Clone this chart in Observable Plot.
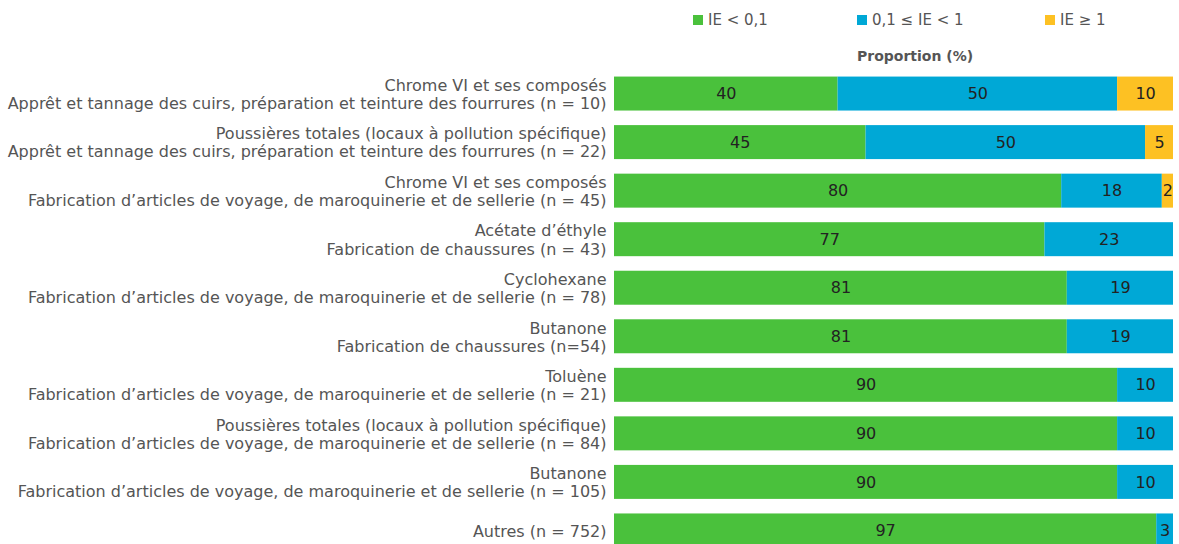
<!DOCTYPE html>
<html>
<head>
<meta charset="utf-8">
<script src="https://cdn.jsdelivr.net/npm/d3@7"></script>
<script src="https://cdn.jsdelivr.net/npm/@observablehq/plot@0.6"></script>
<style>
  html, body { margin: 0; padding: 0; background: #fff; overflow: hidden; width: 1179px; height: 544px; }
  body { font-family: "DejaVu Sans", sans-serif; color: #555; }
  #legend { position: relative; height: 62px; width: 1179px; }
  .item { position: absolute; top: 11px; font-size: 15px; line-height: 18px; white-space: nowrap; color: #555; }
  .sw { display: inline-block; width: 10px; height: 10px; margin-right: 5px; vertical-align: 0px; }
  #ptitle { position: absolute; left: 857px; top: 47px; font-size: 14px; font-weight: bold; line-height: 18px; color: #555; white-space: nowrap; }
</style>
</head>
<body>
<div id="legend"></div>
<div id="chart"></div>
<script>
const categories = [
  "Chrome VI et ses composés\nApprêt et tannage des cuirs, préparation et teinture des fourrures (n = 10)",
  "Poussières totales (locaux à pollution spécifique)\nApprêt et tannage des cuirs, préparation et teinture des fourrures (n = 22)",
  "Chrome VI et ses composés\nFabrication d’articles de voyage, de maroquinerie et de sellerie (n = 45)",
  "Acétate d’éthyle\nFabrication de chaussures (n = 43)",
  "Cyclohexane\nFabrication d’articles de voyage, de maroquinerie et de sellerie (n = 78)",
  "Butanone\nFabrication de chaussures (n=54)",
  "Toluène\nFabrication d’articles de voyage, de maroquinerie et de sellerie (n = 21)",
  "Poussières totales (locaux à pollution spécifique)\nFabrication d’articles de voyage, de maroquinerie et de sellerie (n = 84)",
  "Butanone\nFabrication d’articles de voyage, de maroquinerie et de sellerie (n = 105)",
  "Autres (n = 752)"
];
const seriesNames = ["IE < 0,1", "0,1 ≤ IE < 1", "IE ≥ 1"];
const seriesColors = ["#4ac13c", "#00a8d6", "#fdc123"];
const low = [40, 45, 80, 77, 81, 81, 90, 90, 90, 97];
const mid = [50, 50, 18, 23, 19, 19, 10, 10, 10, 3];
const high = [10, 5, 2, 0, 0, 0, 0, 0, 0, 0];
const axisTitle = "Proportion (%)";

const seriesValues = [low, mid, high];
const data = [];
categories.forEach((c, i) => {
  seriesValues.forEach((vals, s) => {
    if (vals[i] > 0) data.push({cat: c, series: seriesNames[s], value: vals[i]});
  });
});

// Legend
const legend = document.getElementById("legend");
const legendX = [693, 857, 1045];
seriesNames.forEach((name, i) => {
  const d = document.createElement("div");
  d.className = "item";
  d.style.left = legendX[i] + "px";
  d.innerHTML = `<span class="sw" style="background:${seriesColors[i]}"></span>`;
  d.appendChild(document.createTextNode(name));
  legend.appendChild(d);
});
const pt = document.createElement("div");
pt.id = "ptitle";
pt.textContent = axisTitle;
legend.appendChild(pt);

const chart = Plot.plot({
  width: 1179,
  height: 500,
  marginLeft: 614,
  marginRight: 6,
  marginTop: 0,
  marginBottom: 0,
  style: {fontFamily: "'DejaVu Sans', sans-serif", color: "#555", background: "#fff"},
  x: {domain: [0, 100], axis: null},
  y: {domain: categories, padding: 0.3, round: false, label: null},
  color: {domain: seriesNames, range: seriesColors},
  marks: [
    Plot.axisY({tickSize: 0, tickPadding: 8, fontSize: 16, lineHeight: 1.13, label: null, fill: "#555"}),
    Plot.barX(data, Plot.stackX({x: "value", y: "cat", fill: "series", order: null})),
    Plot.text(data, Plot.stackX({x: "value", y: "cat", z: "series", text: d => String(d.value), order: null, fill: "#222", fontSize: 16}))
  ]
});
document.getElementById("chart").appendChild(chart);
</script>
</body>
</html>
